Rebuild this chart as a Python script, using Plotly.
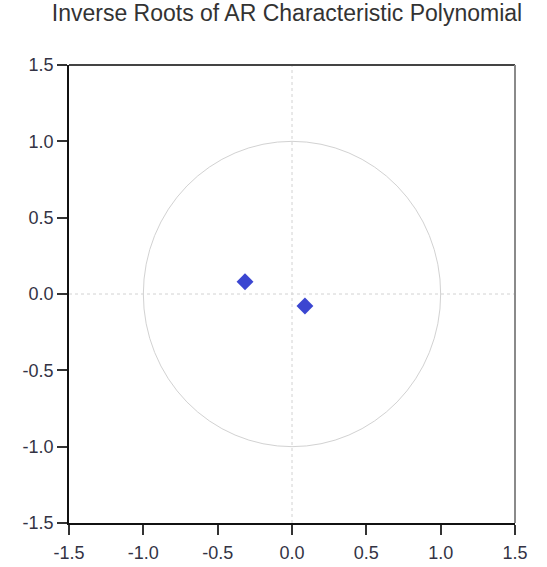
import plotly.graph_objects as go

root_re = [-0.316, 0.087]
root_im = [0.08, -0.079]
tick_vals = [-1.5, -1.0, -0.5, 0.0, 0.5, 1.0, 1.5]
tick_text = ["-1.5", "-1.0", "-0.5", "0.0", "0.5", "1.0", "1.5"]
unit_radius = 1.0
axis_min, axis_max = -1.5, 1.5

fig = go.Figure()
fig.add_trace(go.Scatter(
    x=root_re, y=root_im, mode="markers",
    marker=dict(symbol="diamond", size=13, color="#3b46d1"),
    showlegend=False, hoverinfo="x+y"))

grey = "#d2d2d2"
fig.add_shape(type="circle", xref="x", yref="y",
              x0=-unit_radius, y0=-unit_radius, x1=unit_radius, y1=unit_radius,
              line=dict(color=grey, width=1), layer="below")
fig.add_shape(type="line", xref="x", yref="y", x0=axis_min, x1=axis_max, y0=0, y1=0,
              line=dict(color=grey, width=1, dash="3px,3px"), layer="below")
fig.add_shape(type="line", xref="x", yref="y", x0=0, x1=0, y0=axis_min, y1=axis_max,
              line=dict(color=grey, width=1, dash="3px,3px"), layer="below")
# top and right frame lines
fig.add_shape(type="line", xref="x domain", yref="y domain", x0=0, x1=1, y0=1, y1=1,
              line=dict(color="#444444", width=2))
fig.add_shape(type="line", xref="x domain", yref="y domain", x0=1, x1=1, y0=0, y1=1,
              line=dict(color="#8a8a8a", width=2))

axis_common = dict(
    range=[axis_min, axis_max], tickvals=tick_vals, ticktext=tick_text,
    showgrid=False, zeroline=False, showline=True, linecolor="#111111",
    linewidth=1.5, mirror=False, ticks="outside", ticklen=10, tickcolor="#333333",
    tickwidth=1.5, automargin=False,
    tickfont=dict(family="Liberation Sans, Arial", size=18, color="#333344"),
)
fig.update_xaxes(**axis_common, ticklabelstandoff=3)
fig.update_yaxes(**axis_common)

fig.update_layout(
    width=547, height=567,
    margin=dict(l=69, r=32, t=65, b=44, autoexpand=False),
    paper_bgcolor="white", plot_bgcolor="white",
    title=dict(text="Inverse Roots of AR Characteristic Polynomial",
               x=287 / 547, xanchor="center", xref="container",
               y=1 - 13 / 567, yanchor="middle", yref="container",
               font=dict(family="Liberation Sans, Arial", size=23, color="#333333")),
)
fig.write_html("out.html", config={"displayModeBar": False},
               post_script="document.body.style.margin='0';document.body.style.overflow='hidden';")
